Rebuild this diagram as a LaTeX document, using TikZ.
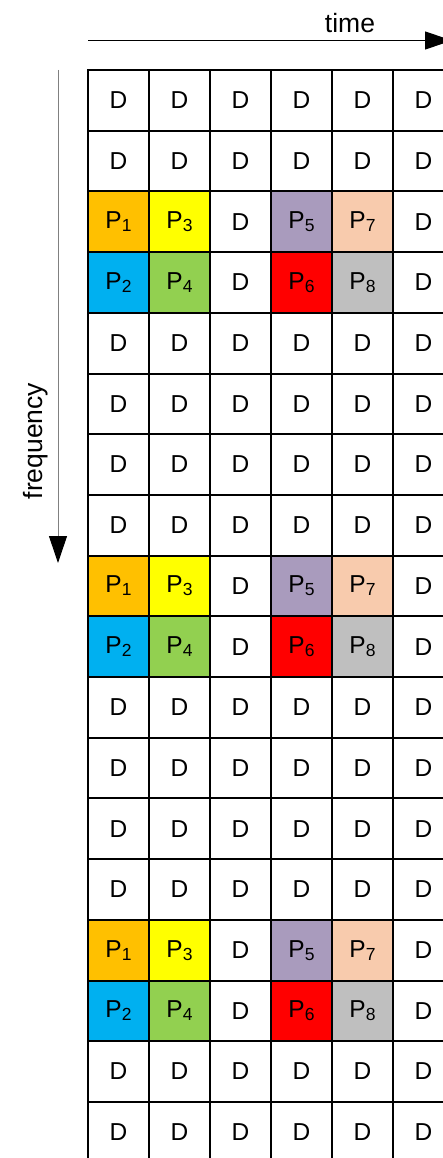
\documentclass[tikz,border=0pt]{standalone}
\usepackage{fontspec}
\setmainfont{Liberation Sans}
\usetikzlibrary{arrows.meta}
\definecolor{pOrange}{HTML}{FFC000}
\definecolor{pYellow}{HTML}{FFFF00}
\definecolor{pLilac}{HTML}{A99BBD}
\definecolor{pPeach}{HTML}{F8CBAD}
\definecolor{pBlue}{HTML}{00B0F0}
\definecolor{pGreen}{HTML}{92D050}
\definecolor{pRed}{HTML}{FF0000}
\definecolor{pGray}{HTML}{BFBFBF}
\newcommand{\pilot}[1]{P\raisebox{-3pt}{\fontsize{17.5}{18}\selectfont#1}}
\begin{document}
\begin{tikzpicture}[x=1pt,y=-1pt,
  cell/.style={draw,line width=2pt,minimum width=61pt,minimum height=60.7pt,inner sep=0pt,font=\fontsize{24.5}{28}\selectfont},
  lbl/.style={font=\fontsize{26.5}{30}\selectfont}]
\useasboundingbox (0,0) rectangle (442,1158);
% data cells
\foreach \r in {1,2,5,6,7,8,11,12,13,14,17,18}
  \foreach \c in {1,...,6}
    \node[cell] (c-\r-\c) at ({88+61*(\c-0.5)},{70+60.7*(\r-0.5)}) {D};
% pilot cells
\foreach \r in {3,9,15}{
  \foreach \c/\t/\col in {1/\pilot{1}/pOrange,2/\pilot{3}/pYellow,3/D/white,4/\pilot{5}/pLilac,5/\pilot{7}/pPeach,6/D/white}
    \node[cell,fill=\col] (c-\r-\c) at ({88+61*(\c-0.5)},{70+60.7*(\r-0.5)}) {\t};
  \pgfmathtruncatemacro\s{\r+1}
  \foreach \c/\t/\col in {1/\pilot{2}/pBlue,2/\pilot{4}/pGreen,3/D/white,4/\pilot{6}/pRed,5/\pilot{8}/pGray,6/D/white}
    \node[cell,fill=\col] (c-\s-\c) at ({88+61*(\c-0.5)},{70+60.7*(\s-0.5)}) {\t};
}
% axes
\coordinate (t0) at (88,40.5);
\coordinate (t1) at (452,40.5);
\draw[-{Triangle[length=27pt,width=18pt]},line width=1pt] (t0) -- (t1);
\node[lbl] (time) at (350,23) {time};
\coordinate (f0) at (58,70);
\coordinate (f1) at (58,563);
\draw[-{Triangle[length=27pt,width=18pt,black]},gray,line width=1pt] (f0) -- (f1);
\node[lbl,rotate=90] (freq) at (36,441) {frequency};
\end{tikzpicture}
\end{document}
